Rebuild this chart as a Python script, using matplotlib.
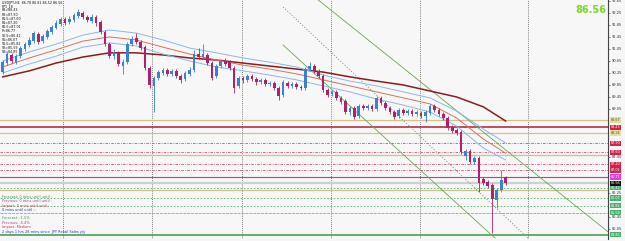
import numpy as np
import matplotlib
matplotlib.use("Agg")
import matplotlib.pyplot as plt

# USDJPY H4 candles
opens = [90.27, 90.57, 90.84, 90.60, 90.80, 91.04, 91.17, 91.30, 91.54, 91.30,
         91.44, 91.60, 91.74, 91.87, 92.04, 91.94, 92.00, 92.14, 92.24, 92.10,
         91.97, 92.10, 91.94, 91.60, 91.20, 90.80, 90.91, 90.47, 90.60, 91.20,
         91.40, 91.27, 91.10, 90.41, 89.81, 90.07, 90.24, 90.34, 90.21, 90.31,
         90.14, 90.04, 90.21, 90.34, 90.87, 90.77, 90.84, 90.57, 90.14, 90.47,
         90.64, 90.60, 90.41, 89.81, 90.07, 90.01, 90.14, 90.04, 89.94, 90.01,
         89.87, 89.91, 89.74, 89.51, 89.91, 89.81, 89.87, 89.77, 89.74, 90.37,
         90.47, 90.31, 90.14, 89.67, 89.54, 89.61, 89.41, 89.31, 88.94, 89.07,
         88.80, 89.14, 89.07, 89.14, 89.04, 89.41, 89.24, 89.07, 88.94, 88.80,
         89.01, 88.91, 88.97, 88.87, 88.91, 88.80, 88.91, 89.14, 89.01, 88.87,
         88.74, 88.44, 88.34, 88.27, 87.48, 87.64, 87.28, 87.41, 86.71, 86.61,
         86.51, 86.01, 86.34, 86.78]
highs = [90.67, 90.94, 90.91, 90.87, 91.14, 91.27, 91.44, 91.64, 91.60, 91.54,
         91.70, 91.84, 92.00, 92.10, 92.10, 92.14, 92.24, 92.37, 92.30, 92.17,
         92.20, 92.17, 92.00, 91.67, 91.27, 91.04, 90.97, 90.70, 91.27, 91.47,
         91.57, 91.34, 91.17, 90.47, 90.14, 90.34, 90.41, 90.41, 90.37, 90.37,
         90.21, 90.31, 90.44, 91.01, 91.07, 91.20, 90.91, 90.64, 90.54, 90.70,
         90.74, 90.67, 90.47, 90.14, 90.14, 90.21, 90.21, 90.11, 90.07, 90.07,
         89.97, 89.97, 89.81, 90.01, 89.97, 89.94, 89.94, 89.84, 90.44, 90.60,
         90.54, 90.37, 90.21, 89.74, 89.67, 89.67, 89.47, 89.37, 89.14, 89.14,
         89.21, 89.21, 89.21, 89.21, 89.47, 89.47, 89.31, 89.14, 89.01, 89.07,
         89.07, 89.04, 89.04, 89.01, 88.97, 89.01, 89.21, 89.21, 89.07, 88.94,
         88.80, 88.51, 88.41, 88.34, 87.71, 87.71, 87.48, 87.48, 86.78, 86.68,
         86.58, 86.41, 87.01, 86.81]
lows = [90.21, 90.50, 90.57, 90.54, 90.74, 90.97, 91.10, 91.24, 91.20, 91.24,
        91.37, 91.54, 91.70, 91.80, 91.84, 91.87, 91.94, 92.07, 92.04, 91.94,
        91.90, 91.80, 91.54, 91.14, 90.74, 90.70, 90.47, 90.21, 90.54, 91.14,
        91.20, 91.01, 90.34, 89.74, 88.94, 90.01, 90.17, 90.14, 90.14, 90.07,
        89.91, 89.97, 90.14, 90.27, 90.70, 90.70, 90.50, 90.01, 90.07, 90.41,
        90.47, 90.34, 89.57, 89.74, 89.91, 89.94, 89.97, 89.84, 89.87, 89.81,
        89.81, 89.67, 89.34, 89.44, 89.74, 89.74, 89.71, 89.67, 89.67, 90.31,
        90.24, 90.07, 89.61, 89.44, 89.47, 89.34, 89.21, 88.87, 88.84, 88.71,
        88.74, 89.01, 89.01, 88.97, 88.97, 89.17, 89.01, 88.87, 88.71, 88.74,
        88.84, 88.84, 88.80, 88.80, 88.74, 88.61, 88.84, 88.94, 88.80, 88.67,
        88.34, 88.24, 88.17, 87.54, 87.34, 87.21, 87.21, 86.28, 86.51, 86.41,
        84.91, 85.74, 86.28, 86.52]
closes = [90.60, 90.87, 90.64, 90.80, 91.07, 91.20, 91.34, 91.57, 91.27, 91.47,
          91.64, 91.77, 91.90, 92.04, 91.90, 92.04, 92.17, 92.27, 92.10, 92.00,
          92.10, 91.90, 91.60, 91.20, 90.80, 90.94, 90.54, 90.60, 91.20, 91.37,
          91.27, 91.07, 90.41, 89.84, 90.07, 90.27, 90.34, 90.21, 90.31, 90.14,
          90.01, 90.24, 90.34, 90.87, 90.77, 90.87, 90.57, 90.07, 90.47, 90.64,
          90.54, 90.41, 89.74, 90.07, 90.01, 90.14, 90.04, 89.94, 90.01, 89.87,
          89.91, 89.74, 89.47, 89.94, 89.81, 89.87, 89.77, 89.74, 90.37, 90.47,
          90.31, 90.14, 89.67, 89.51, 89.61, 89.41, 89.27, 88.94, 89.07, 88.77,
          89.14, 89.07, 89.14, 89.04, 89.41, 89.24, 89.07, 88.94, 88.77, 89.01,
          88.91, 88.97, 88.87, 88.94, 88.80, 88.94, 89.14, 89.01, 88.87, 88.74,
          88.41, 88.31, 88.24, 87.61, 87.64, 87.28, 87.41, 86.58, 86.58, 86.48,
          86.04, 86.34, 86.68, 86.56]

# moving averages / envelope, sampled every 6 bars
ma_idx = [0, 6, 12, 18, 24, 30, 36, 42, 48, 54, 60, 66, 72, 78, 84, 90, 96, 102, 108, 113]
ma_long = [90.11, 90.31, 90.57, 90.77, 90.91, 90.91, 90.84, 90.74, 90.67, 90.57,
           90.47, 90.37, 90.27, 90.11, 89.97, 89.84, 89.64, 89.44, 89.11, 88.64]
env_up = [90.64, 90.94, 91.20, 91.50, 91.67, 91.57, 91.34, 91.07, 90.91, 90.74,
          90.60, 90.44, 90.17, 89.97, 89.81, 89.61, 89.41, 88.97, 88.37, 87.91]
env_mid = [90.44, 90.74, 91.01, 91.30, 91.44, 91.34, 91.10, 90.87, 90.67, 90.50,
           90.37, 90.21, 90.01, 89.81, 89.61, 89.41, 89.21, 88.74, 88.04, 87.57]
env_lo = [90.24, 90.54, 90.80, 91.10, 91.24, 91.14, 90.87, 90.64, 90.44, 90.31,
          90.17, 90.01, 89.81, 89.61, 89.37, 89.17, 88.94, 88.47, 87.74, 87.34]

# pivot levels
piv_names = ["R3", "R2", "R1.5", "R1", "R0.5", "P", "S0.5", "S1", "S1.5", "S2", "S3"]
piv_vals = [88.43, 87.90, 87.60, 87.20, 87.01, 86.77, 86.42, 86.07, 85.82, 85.59, 84.85]
sr_levels = [88.67, 88.24, 87.51, 86.34]   # olive S/R lines
bid = 86.56

# trend channel (bar index, price)
tl_solid1 = ([70.9, 136.0], [92.67, 84.95])
tl_solid2 = ([63.0, 110.6], [91.17, 84.74])
tl_dot = ([63.0, 118.0], [92.44, 84.74])

grid_bars = [13.5, 33.6, 53.7, 73.8, 93.8, 118.0]
yticks = [92.65, 92.25, 91.85, 91.45, 91.05, 90.65, 90.25, 89.85, 89.45, 89.05,
          87.45, 86.25, 85.45, 85.05]

head = "USDJPY,H4  86.78 86.81 86.52 86.56"
news1 = ["Forecast: 0 mins until until :", "Previous: 0 mins until until :",
         "Impact: 0 mins until until :", "0 mins until until ::"]
news2 = ["Forecast: -1.5%", "Previous: -5.4%", "Impact: Medium",
         "2 days 1 hrs 28 mins since  JPY Retail Sales y/y"]

BULL = "#3a80d4"
BEAR = "#b2206c"

fig = plt.figure(figsize=(6.25, 2.41), dpi=100)
fig.patch.set_facecolor("#f6f6f6")
ax = fig.add_axes([0, 2 / 241, 608 / 625, 239 / 241])
ax.set_facecolor("#f7f7f7")
ax.set_xlim(-0.6, 136.0)
ax.set_ylim(84.71, 92.67)

for g in grid_bars:
    ax.axvline(g, color="#555555", lw=0.6, ls=(0, (1, 1.5)), zorder=1)

# horizontal levels
for v in sr_levels:
    ax.axhline(v, color="#c8c48c", lw=0.9, zorder=2)
ax.axhline(bid, color="#cfcfcf", lw=1.6, zorder=2)
for n, v in zip(piv_names, piv_vals):
    if n == "R3":
        ax.axhline(v, color="#b01e3c", lw=1.1, zorder=2)
    elif n == "P":
        ax.axhline(v, color="#b040b0", lw=0.8, zorder=2)
    elif n == "S3":
        ax.axhline(v, color="#3c9a48", lw=1.1, zorder=2)
    elif n == "S2":
        ax.axhline(v, color="#a8b870", lw=0.7, ls=(0, (3, 1)), zorder=2)
    elif n.startswith("R"):
        ax.axhline(v, color="#d0506e", lw=0.6, ls=(0, (3, 1.5, 1, 1.5)), zorder=2)
    else:
        ax.axhline(v, color="#60b070", lw=0.6, ls=(0, (2, 2)), zorder=2)

# trend lines
ax.plot(*tl_solid1, color="#6aa84f", lw=0.6, zorder=2)
ax.plot(*tl_solid2, color="#6aa84f", lw=0.6, zorder=2)
ax.plot(*tl_dot, color="#6aa84f", lw=0.6, ls=(0, (1.5, 2)), zorder=2)

# averages
ax.plot(ma_idx, ma_long, color="#8b1c1c", lw=1.1, zorder=3)
ax.plot(ma_idx, env_up, color="#8ab8e6", lw=0.7, zorder=3)
ax.plot(ma_idx, env_mid, color="#d8705c", lw=0.7, zorder=3)
ax.plot(ma_idx, env_lo, color="#8ab8e6", lw=0.7, zorder=3)

# candles
for i in range(len(closes)):
    o, h, l, c = opens[i], highs[i], lows[i], closes[i]
    col = BULL if c >= o else BEAR
    ax.vlines(i, l, h, color=col, lw=0.6, zorder=4)
    ax.bar(i, max(abs(c - o), 0.02), bottom=min(o, c), width=0.6,
           color=col, lw=0, zorder=5)

# right axis
ax.yaxis.tick_right()
ax.set_yticks(yticks)
ax.set_yticklabels(["%.2f" % t for t in yticks], fontsize=2.6, color="#333333")
ax.tick_params(axis="y", length=1.5, width=0.4, pad=1, colors="#333333")
ax.set_xticks([])
for s in ["top", "left", "bottom"]:
    ax.spines[s].set_visible(False)
ax.spines["right"].set_color("#444444")
ax.spines["right"].set_linewidth(0.8)

# price boxes on the axis
ytr = ax.get_yaxis_transform()
boxes = []
for v in sr_levels[:2]:
    boxes.append((v, "#e2dea4", "#555533"))
for n, v in zip(piv_names, piv_vals):
    if n.startswith("R"):
        boxes.append((v, "#d4224a", "white"))
    elif n == "P":
        boxes.append((v, "#e040e0", "white"))
    else:
        boxes.append((v, "#4cb070", "white"))
boxes.append((bid, "#111111", "white"))
for v, fc, tc in boxes:
    ax.text(1.004, v, "%.2f" % v, transform=ytr, fontsize=2.4, color=tc,
            va="center", ha="left", clip_on=False, zorder=10,
            bbox=dict(boxstyle="square,pad=0.2", fc=fc, ec="none"))

# info texts
ax.text(0.003, 0.995, head, transform=ax.transAxes, fontsize=2.3,
        va="top", ha="left", color="#111111", zorder=8)
ypix = 6.2
for n, v in zip(["PP1_18"] + piv_names, [None] + piv_vals):
    s = n if v is None else "%s=%.2f" % (n, v)
    ax.text(0.003, 1 - ypix / 239, s, transform=ax.transAxes, fontsize=2.3,
            va="center", ha="left", color="#111111", zorder=8)
    ypix += 4.2

cols = ["#3c9a3c", "#a040a8", "#c83050", "#2030c8"]
for k, s in enumerate(news1):
    ax.text(0.003, 1 - (196.7 + 4.4 * k) / 239, s, transform=ax.transAxes,
            fontsize=2.5, va="center", ha="left", color=cols[k], zorder=8)
for k, s in enumerate(news2):
    ax.text(0.003, 1 - (217.7 + 4.8 * k) / 239, s, transform=ax.transAxes,
            fontsize=2.5, va="center", ha="left", color=cols[k], zorder=8)

ax.text(0.997, 1 - 10 / 239, "%.2f" % bid, transform=ax.transAxes,
        fontsize=7, fontweight="bold", color="#7ed62a", va="center", ha="right", zorder=8)

fig.savefig("out.png", dpi=100, facecolor=fig.get_facecolor())
